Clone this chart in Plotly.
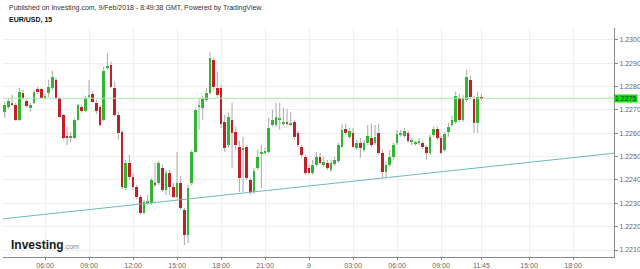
import pandas as pd
import plotly.graph_objects as go

# ---- data (EUR/USD 15-minute candles, 8 Feb 2018 03:15 -> 9 Feb 2018 11:45) ----
start_time = "2018-02-08 03:15"
n_bars = 131

opens = [1.22692, 1.22713, 1.22726, 1.22722, 1.22658, 1.22774, 1.22739, 1.22709, 1.22731, 1.22791,
         1.22791, 1.22752, 1.22774, 1.22795, 1.22829, 1.22752, 1.22679, 1.22589, 1.22580, 1.22580,
         1.22658, 1.22713, 1.22696, 1.22756, 1.22769, 1.22731, 1.22713, 1.22658, 1.22881, 1.22894,
         1.22795, 1.22679, 1.22606, 1.22366, 1.22473, 1.22413, 1.22370, 1.22327, 1.22259, 1.22302,
         1.22302, 1.22387, 1.22387, 1.22452, 1.22357, 1.22430, 1.22370, 1.22327, 1.22387, 1.22272,
         1.22164, 1.22387, 1.22520, 1.22713, 1.22709, 1.22744, 1.22774, 1.22915, 1.22795, 1.22795,
         1.22649, 1.22550, 1.22658, 1.22606, 1.22542, 1.22529, 1.22542, 1.22400, 1.22349, 1.22452,
         1.22512, 1.22516, 1.22520, 1.22636, 1.22636, 1.22658, 1.22641, 1.22645, 1.22636, 1.22649,
         1.22602, 1.22542, 1.22499, 1.22452, 1.22430, 1.22465, 1.22499, 1.22465, 1.22473, 1.22443,
         1.22469, 1.22482, 1.22542, 1.22619, 1.22585, 1.22602, 1.22538, 1.22559, 1.22529, 1.22559,
         1.22580, 1.22559, 1.22602, 1.22516, 1.22435, 1.22465, 1.22499, 1.22559, 1.22593, 1.22589,
         1.22602, 1.22563, 1.22555, 1.22559, 1.22559, 1.22542, 1.22516, 1.22593, 1.22619, 1.22580,
         1.22529, 1.22606, 1.22636, 1.22649, 1.22752, 1.22658, 1.22744, 1.22829, 1.22748, 1.22645,
         1.22755]
highs = [1.22735, 1.22752, 1.22765, 1.22731, 1.22795, 1.22786, 1.22748, 1.22731, 1.22786, 1.22799,
         1.22795, 1.22769, 1.22829, 1.22868, 1.22838, 1.22756, 1.22683, 1.22628, 1.22606, 1.22666,
         1.22726, 1.22722, 1.22761, 1.22829, 1.22778, 1.22744, 1.22722, 1.22885, 1.22941, 1.22907,
         1.22821, 1.22692, 1.22615, 1.22486, 1.22508, 1.22430, 1.22379, 1.22336, 1.22315, 1.22336,
         1.22409, 1.22473, 1.22482, 1.22465, 1.22443, 1.22443, 1.22387, 1.22520, 1.22417, 1.22280,
         1.22379, 1.22529, 1.22709, 1.22752, 1.22761, 1.22795, 1.22949, 1.22924, 1.22864, 1.22808,
         1.22679, 1.22688, 1.22731, 1.22628, 1.22568, 1.22585, 1.22550, 1.22409, 1.22452, 1.22529,
         1.22550, 1.22538, 1.22666, 1.22701, 1.22731, 1.22731, 1.22709, 1.22705, 1.22692, 1.22658,
         1.22611, 1.22550, 1.22508, 1.22465, 1.22486, 1.22520, 1.22516, 1.22499, 1.22486, 1.22486,
         1.22499, 1.22559, 1.22641, 1.22641, 1.22623, 1.22623, 1.22572, 1.22580, 1.22572, 1.22636,
         1.22641, 1.22636, 1.22641, 1.22529, 1.22478, 1.22529, 1.22559, 1.22615, 1.22615, 1.22623,
         1.22611, 1.22580, 1.22568, 1.22580, 1.22568, 1.22550, 1.22593, 1.22628, 1.22628, 1.22589,
         1.22606, 1.22645, 1.22675, 1.22778, 1.22769, 1.22765, 1.22872, 1.22846, 1.22761, 1.22778,
         1.22769]
lows = [1.22666, 1.22705, 1.22718, 1.22653, 1.22653, 1.22744, 1.22709, 1.22692, 1.22726, 1.22769,
        1.22748, 1.22744, 1.22756, 1.22786, 1.22744, 1.22666, 1.22572, 1.22550, 1.22563, 1.22576,
        1.22653, 1.22688, 1.22692, 1.22748, 1.22731, 1.22683, 1.22628, 1.22653, 1.22872, 1.22795,
        1.22671, 1.22572, 1.22362, 1.22357, 1.22400, 1.22357, 1.22319, 1.22250, 1.22254, 1.22293,
        1.22293, 1.22370, 1.22379, 1.22349, 1.22336, 1.22336, 1.22323, 1.22319, 1.22272, 1.22121,
        1.22130, 1.22375, 1.22516, 1.22615, 1.22658, 1.22735, 1.22765, 1.22786, 1.22756, 1.22623,
        1.22520, 1.22538, 1.22452, 1.22529, 1.22349, 1.22349, 1.22400, 1.22336, 1.22340, 1.22443,
        1.22366, 1.22508, 1.22516, 1.22628, 1.22628, 1.22615, 1.22632, 1.22632, 1.22632, 1.22572,
        1.22542, 1.22495, 1.22422, 1.22422, 1.22422, 1.22456, 1.22465, 1.22456, 1.22443, 1.22435,
        1.22460, 1.22473, 1.22538, 1.22593, 1.22576, 1.22538, 1.22529, 1.22495, 1.22520, 1.22550,
        1.22542, 1.22550, 1.22508, 1.22409, 1.22409, 1.22456, 1.22486, 1.22550, 1.22585, 1.22580,
        1.22559, 1.22550, 1.22546, 1.22550, 1.22533, 1.22486, 1.22508, 1.22585, 1.22572, 1.22512,
        1.22520, 1.22585, 1.22628, 1.22641, 1.22649, 1.22649, 1.22735, 1.22744, 1.22602, 1.22602,
        1.22739]
closes = [1.22722, 1.22739, 1.22722, 1.22658, 1.22778, 1.22752, 1.22718, 1.22722, 1.22778, 1.22778,
          1.22752, 1.22761, 1.22799, 1.22842, 1.22752, 1.22671, 1.22580, 1.22580, 1.22589, 1.22658,
          1.22722, 1.22696, 1.22752, 1.22761, 1.22735, 1.22696, 1.22636, 1.22868, 1.22885, 1.22799,
          1.22679, 1.22602, 1.22370, 1.22473, 1.22413, 1.22370, 1.22327, 1.22259, 1.22306, 1.22306,
          1.22400, 1.22379, 1.22473, 1.22357, 1.22430, 1.22370, 1.22327, 1.22387, 1.22280, 1.22164,
          1.22366, 1.22520, 1.22701, 1.22718, 1.22752, 1.22774, 1.22924, 1.22799, 1.22765, 1.22641,
          1.22538, 1.22671, 1.22602, 1.22550, 1.22409, 1.22538, 1.22409, 1.22349, 1.22439, 1.22499,
          1.22516, 1.22525, 1.22623, 1.22658, 1.22671, 1.22662, 1.22645, 1.22641, 1.22641, 1.22585,
          1.22550, 1.22508, 1.22430, 1.22430, 1.22465, 1.22499, 1.22473, 1.22478, 1.22452, 1.22473,
          1.22486, 1.22550, 1.22615, 1.22602, 1.22611, 1.22542, 1.22559, 1.22538, 1.22559, 1.22589,
          1.22550, 1.22585, 1.22516, 1.22435, 1.22465, 1.22499, 1.22550, 1.22598, 1.22598, 1.22611,
          1.22568, 1.22568, 1.22559, 1.22568, 1.22542, 1.22516, 1.22585, 1.22619, 1.22580, 1.22516,
          1.22598, 1.22628, 1.22658, 1.22761, 1.22658, 1.22752, 1.22842, 1.22756, 1.22645, 1.22756,
          1.22750]

last_price = 1.2275
trend_times = ["2018-02-08 02:45", "2018-02-09 21:00"]
trend_prices = [1.22231, 1.22516]

x_tick_times = ["2018-02-08 06:00", "2018-02-08 09:00", "2018-02-08 12:00", "2018-02-08 15:00",
                "2018-02-08 18:00", "2018-02-08 21:00", "2018-02-09 00:00", "2018-02-09 03:00",
                "2018-02-09 06:00", "2018-02-09 09:00", "2018-02-09 11:45", "2018-02-09 15:00",
                "2018-02-09 18:00"]
x_tick_labels = ["06:00", "09:00", "12:00", "15:00", "18:00", "21:00", "9", "03:00",
                 "06:00", "09:00", "11:45", "15:00", "18:00"]
y_tick_values = [1.2210, 1.2220, 1.2230, 1.2240, 1.2250, 1.2260, 1.2270, 1.2280, 1.2290, 1.2300]
y_tick_labels = ["1.2210", "1.2220", "1.2230", "1.2240", "1.2250", "1.2260", "1.2270", "1.2280",
                 "1.2290", "1.2300"]

# ---- build ----
times = pd.date_range(start_time, periods=n_bars, freq="15min")
GREEN = "#2fb72f"
RED = "#c41f26"
WICK = "#a8a8a8"
FONT = "Arial, Liberation Sans, sans-serif"

wx, wy = [], []
bases, heights, colors = [], [], []
for t, o, h, l, c in zip(times, opens, highs, lows, closes):
    top, bot = max(o, c), min(o, c)
    wx += [t, t, None, t, t, None]
    wy += [h, top, None, bot, l, None]
    bases.append(bot)
    heights.append(max(top - bot, 0.00003))
    colors.append(GREEN if c >= o else RED)

fig = go.Figure()
fig.add_trace(go.Scatter(x=trend_times, y=trend_prices, mode="lines",
                         line=dict(color="#6fb9b9", width=1), hoverinfo="skip"))
fig.add_trace(go.Bar(x=times, y=heights, base=bases, width=630000,
                     marker=dict(color=colors, line=dict(width=0))))
fig.add_trace(go.Scatter(x=wx, y=wy, mode="lines", line=dict(color=WICK, width=1),
                         hoverinfo="skip", connectgaps=False))
fig.add_hline(y=last_price, line=dict(color="#a8e8a8", width=1))

fig.update_layout(
    width=640, height=269,
    margin=dict(l=3, r=26, t=28, b=12),
    plot_bgcolor="white", paper_bgcolor="white",
    showlegend=False, bargap=0,
    font=dict(family=FONT, size=7, color="#555"),
    xaxis=dict(type="date", range=["2018-02-08 03:08", "2018-02-09 20:47:30"],
               tickvals=x_tick_times, ticktext=x_tick_labels,
               showgrid=True, gridcolor="#f0f0f0", gridwidth=1,
               showline=True, linecolor="#8a8a8a", linewidth=1,
               ticks="outside", ticklen=2, tickcolor="#8a8a8a",
               tickfont=dict(size=7, color="#666"), zeroline=False, automargin=False),
    yaxis=dict(side="right", range=[1.22070, 1.23051],
               tickvals=y_tick_values, ticktext=y_tick_labels,
               showgrid=True, gridcolor="#f0f0f0", gridwidth=1,
               showline=True, linecolor="#8a8a8a", linewidth=1,
               ticks="outside", ticklen=3, tickcolor="#8a8a8a",
               tickfont=dict(size=7, color="#666"), zeroline=False, automargin=False),
)

fig.add_annotation(xref="paper", yref="y", x=1.0, y=last_price, xanchor="left", yanchor="middle",
                   text="1.2275", showarrow=False, bgcolor="#16dc16", borderpad=0,
                   font=dict(size=7, color="#0a3a0a", family=FONT))
fig.add_annotation(xref="paper", yref="paper", x=(7 - 3) / 611, y=(257 - 8) / 229,
                   xanchor="left", yanchor="middle", showarrow=False,
                   text="Published on Investing.com, 9/Feb/2018 - 8:49:38 GMT, Powered by TradingView.",
                   font=dict(size=7, color="#333", family=FONT))
fig.add_annotation(xref="paper", yref="paper", x=(7 - 3) / 611, y=(257 - 20) / 229,
                   xanchor="left", yanchor="middle", showarrow=False,
                   text="<b>EUR/USD, 15</b>", font=dict(size=7, color="#111", family=FONT))
fig.add_annotation(xref="paper", yref="paper", x=(9 - 3) / 611, y=(257 - 245) / 229,
                   xanchor="left", yanchor="middle", showarrow=False,
                   text="<b>Investing</b><span style='font-size:7px;color:#888'>.com</span>",
                   font=dict(size=12, color="#1a1a1a", family=FONT))

fig.write_html("out.html")
